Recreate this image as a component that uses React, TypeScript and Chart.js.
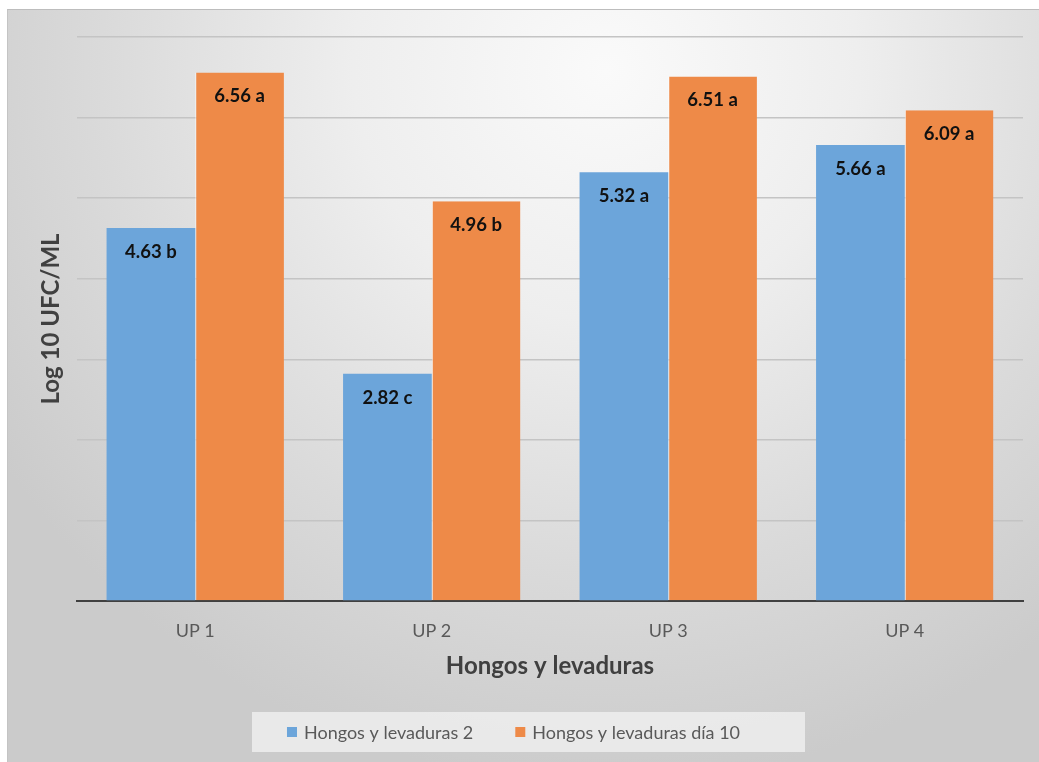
import React, { useEffect, useRef } from "react";
import { Chart, registerables } from "chart.js";

Chart.register(...registerables);

const categories = ["UP 1", "UP 2", "UP 3", "UP 4"];
const seriesNames = ["Hongos y levaduras 2", "Hongos y levaduras día 10"];
const valuesDay2 = [4.63, 2.82, 5.32, 5.66];
const valuesDay10 = [6.56, 4.96, 6.51, 6.09];
const lettersDay2 = ["b", "c", "a", "a"];
const lettersDay10 = ["a", "b", "a", "a"];
const yTicks = [0, 1, 2, 3, 4, 5, 6, 7];

const FONT = "Lato, 'Open Sans', 'DejaVu Sans', sans-serif";
const BLUE = "#6CA5DA";
const ORANGE = "#EE8A48";

const dataLabelPlugin = {
  id: "dataLabels",
  afterDatasetsDraw(chart: any) {
    const ctx = chart.ctx;
    const letters = [lettersDay2, lettersDay10];
    ctx.save();
    ctx.font = `bold 18.5px ${FONT}`;
    ctx.fillStyle = "#111111";
    ctx.textAlign = "center";
    ctx.textBaseline = "middle";
    chart.data.datasets.forEach((ds: any, di: number) => {
      const meta = chart.getDatasetMeta(di);
      meta.data.forEach((bar: any, i: number) => {
        const v = ds.data[i] as number;
        const text = `${v.toFixed(2)} ${letters[di][i]}`;
        ctx.fillText(text, bar.x, bar.y + 24);
      });
    });
    ctx.restore();
  },
};

const customLegendPlugin = {
  id: "customLegend",
  afterDraw(chart: any) {
    const ctx = chart.ctx;
    const fontSize = 18;
    ctx.save();
    ctx.font = `${fontSize}px ${FONT}`;
    const box = 10;
    const gap = 7;
    const itemGap = 42;
    const padL = 35;
    const padR = 65;
    const items = chart.data.datasets.map((ds: any) => ({
      label: ds.label,
      color: ds.backgroundColor,
      w: box + gap + ctx.measureText(ds.label).width,
    }));
    const total = items.reduce((s: number, it: any) => s + it.w, 0) + itemGap * (items.length - 1);
    const bw = total + padL + padR;
    const bx = chart.width / 2 + 5 - bw / 2;
    const cy = chart.height - 30;
    ctx.fillStyle = "rgba(236,236,236,0.9)";
    ctx.fillRect(bx, cy - 20, bw, 40);
    let x = bx + padL;
    ctx.textBaseline = "middle";
    ctx.textAlign = "left";
    items.forEach((it: any) => {
      ctx.fillStyle = it.color;
      ctx.fillRect(x, cy - box / 2, box, box);
      ctx.fillStyle = "#595959";
      ctx.fillText(it.label, x + box + gap, cy + 1);
      x += it.w + itemGap;
    });
    ctx.restore();
  },
};

export default function App() {
  const canvasRef = useRef<HTMLCanvasElement | null>(null);

  useEffect(() => {
    if (!canvasRef.current) return;
    const chart = new Chart(canvasRef.current, {
      type: "bar",
      data: {
        labels: categories,
        datasets: [
          {
            label: seriesNames[0],
            data: valuesDay2,
            backgroundColor: BLUE,
            borderWidth: 0,
            categoryPercentage: 0.75,
            barPercentage: 1.0,
          },
          {
            label: seriesNames[1],
            data: valuesDay10,
            backgroundColor: ORANGE,
            borderColor: "rgba(255,255,255,0.7)",
            borderWidth: { left: 1, top: 0, right: 0, bottom: 0 },
            borderSkipped: false,
            categoryPercentage: 0.75,
            barPercentage: 1.0,
          },
        ],
      },
      options: {
        animation: false,
        responsive: true,
        maintainAspectRatio: false,
        layout: { padding: { top: 27, right: 16, bottom: 73, left: 0 } },
        plugins: {
          legend: { display: false },
          tooltip: { enabled: false },
          title: { display: false },
        },
        scales: {
          x: {
            grid: { display: false, drawTicks: false },
            border: { display: true, color: "#404040", width: 2 },
            ticks: {
              color: "#595959",
              font: { size: 18, family: FONT },
              padding: 19,
            },
            title: {
              display: true,
              text: "Hongos y levaduras",
              color: "#404040",
              font: { size: 24, weight: "bold", family: FONT },
              padding: { top: 0, bottom: 8 },
            },
            afterFit(scale: any) {
              scale.height = 88;
            },
          },
          y: {
            min: yTicks[0],
            max: yTicks[yTicks.length - 1],
            afterBuildTicks(scale: any) {
              scale.ticks = yTicks.map((v) => ({ value: v }));
            },
            grid: { color: "#c4c4c4", lineWidth: 1.5, drawTicks: false },
            border: { display: false },
            ticks: { display: false, stepSize: 1 },
            title: {
              display: true,
              text: "Log 10 UFC/ML",
              color: "#404040",
              font: { size: 24, weight: "bold", family: FONT },
              padding: { top: 29, bottom: 0 },
            },
            afterFit(scale: any) {
              scale.width = 69;
            },
          },
        },
      },
      plugins: [dataLabelPlugin, customLegendPlugin],
    });
    return () => chart.destroy();
  }, []);

  return (
    <div
      style={{
        position: "fixed",
        left: 7,
        top: 9,
        right: 0,
        bottom: 0,
        borderTop: "1px solid #bdbdbd",
        borderLeft: "1px solid #c4c4c4",
        background:
          "radial-gradient(ellipse 70% 95% at 58% 8%, #fafafa 0%, #eeeeee 35%, #dadada 70%, #cbcbcb 100%)",
        boxSizing: "border-box",
      }}
    >
      <canvas ref={canvasRef} style={{ display: "block" }} />
    </div>
  );
}
